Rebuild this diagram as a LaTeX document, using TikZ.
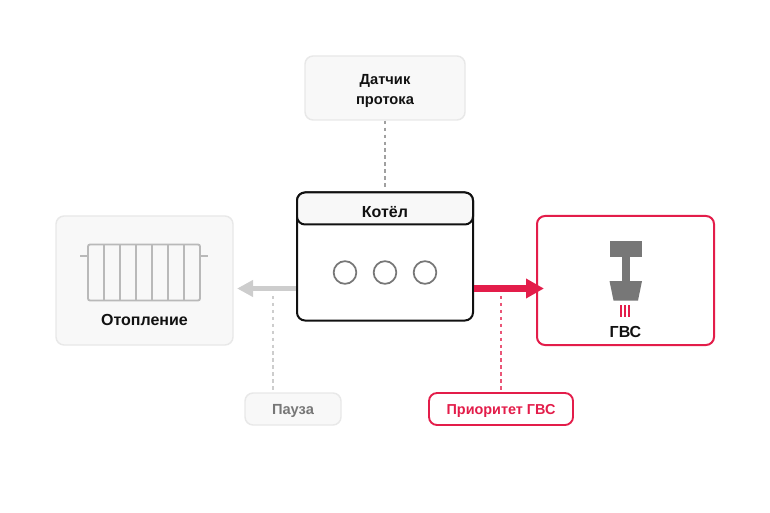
\documentclass[tikz,border=0pt]{standalone}
\usepackage{fontspec}
\setmainfont{Liberation Sans}
\usetikzlibrary{arrows.meta, calc}
\definecolor{cred}{HTML}{E31D4A}
\definecolor{cpale}{HTML}{F8F8F8}
\definecolor{cedge}{HTML}{E8E8E8}
\definecolor{cgrey}{HTML}{777777}
\definecolor{cmetal}{HTML}{B9B9B9}
\definecolor{carrow}{HTML}{CDCDCD}
\definecolor{cink}{HTML}{111111}
\tikzset{
  every picture/.style={x=0.75pt, y=-0.75pt, font=\bfseries},
  panel/.style={draw=#1, rounded corners=6pt, line width=1.1pt, inner sep=0pt, align=center},
  panel/.default=cedge,
  paneltext/.style={font=\fontsize{11}{15}\selectfont\bfseries, text=cink, align=center},
  smalltext/.style={text height=9.5pt, text depth=2pt},
  bigtext/.style={font=\fontsize{12}{15}\selectfont\bfseries, text=cink},
  arrowgrey/.style={-{Triangle[length=12pt, width=12pt]}, draw=carrow, line width=3.9pt},
  arrowred/.style={-{Triangle[length=13.5pt, width=14pt]}, draw=cred, line width=5pt},
  link/.style={dash pattern=on 2.6pt off 2.6pt, line width=0.9pt, shorten >=1.5pt},
  burner/.style={draw=cgrey, line width=1.3pt, circle, minimum size=17pt, inner sep=0pt},
  fin/.style={draw=cmetal, line width=1.4pt},
}
\begin{document}
\begin{tikzpicture}
  \useasboundingbox (0,0) rectangle (770,513);
  \coordinate (pausetop) at (273,296);
  \coordinate (flowline) at (385,288.5);

  \node[panel, fill=cpale, minimum width=120pt, minimum height=48pt, paneltext, text height=27.5pt] (sensor) at (385,88) {Датчик\\протока};
  \node[panel, fill=cpale, minimum width=132.75pt, minimum height=96.75pt] (heating) at (144.5,280.5) {};
  \node[panel=cred, fill=white, minimum width=132.75pt, minimum height=96.75pt, line width=1.5pt] (dhw) at (625.5,280.5) {};
  \node[panel=cedge, fill=cpale, minimum width=72pt, minimum height=24pt, font=\fontsize{11}{13}\selectfont\bfseries, text=cgrey, smalltext] (pause) at (293,409) {Пауза};
  \node[panel=cred, fill=white, minimum width=108pt, minimum height=24pt, line width=1.4pt, font=\fontsize{10.8}{13}\selectfont\bfseries, text=cred, smalltext] (priority) at (501,409) {Приоритет ГВС};

  % boiler
  \node[panel=cink, fill=white, minimum width=132pt, minimum height=96pt, line width=1.5pt] (boiler) at (385,256.5) {};
  \node[panel=cink, fill=cpale, minimum width=132pt, minimum height=24pt, line width=1.5pt, bigtext, text height=12.8pt, text depth=0pt] (boilerhead) at (385,208.5) {Котёл};
  \foreach \x/\n in {345/a, 385/b, 425/c}
    \node[burner] (burner\n) at (\x,272.5) {};

  % connectors
  \draw[link, draw=cgrey!70] (sensor.south) -- (boilerhead.north);
  \draw[link, draw=carrow] (pausetop) -- (pause.north -| pausetop);
  \draw[link, draw=cred!75] (priority.north |- pausetop) -- (priority.north);
  \draw[arrowgrey, shorten >=2.5pt] (boiler.west |- flowline) -- (heating.east |- flowline);
  \draw[arrowred, shorten >=-6pt] (boiler.east |- flowline) -- (dhw.west |- flowline);

  % radiator
  \draw[fin] (80,256) -- (88,256) (200,256) -- (208,256);
  \draw[fin, rounded corners=1.5pt] (88,244.5) rectangle (200,300.5);
  \foreach \x in {104,120,...,184}
    \draw[fin] (\x,244.5) -- (\x,300.5);
  \node[bigtext] (heatlabel) at (144.5,320) {Отопление};

  % tap
  \fill[cgrey] (609.5,240.5) rectangle (642,256.5);
  \fill[cgrey] (621.5,256.5) rectangle (629.5,281);
  \fill[cgrey] (609.5,281) -- (642,281) -- (638,300.5) -- (613.5,300.5) -- cycle;
  \foreach \x in {621,625,629}
    \draw[draw=cred, line width=0.8pt] (\x,305) -- (\x,317);
  \node[bigtext] (dhwlabel) at (625.5,332) {ГВС};
\end{tikzpicture}
\end{document}
